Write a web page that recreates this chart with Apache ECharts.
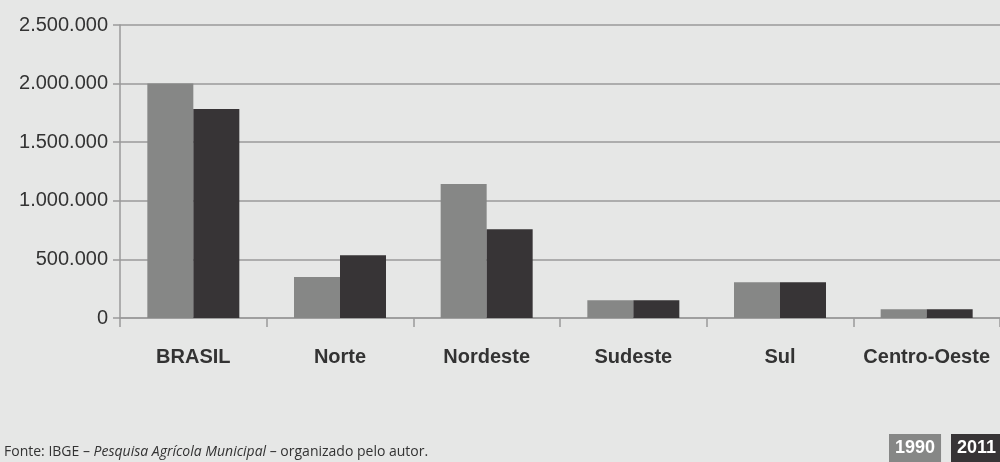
<!DOCTYPE html>
<html>
<head>
<meta charset="utf-8">
<title>Produção por região</title>
<script src="https://cdn.jsdelivr.net/npm/echarts@6/dist/echarts.min.js"></script>
<style>
    html, body { margin: 0; padding: 0; background: #e6e7e6; }
    #chart { width: 1000px; height: 462px; }
</style>
</head>
<body>
<div id="chart"></div>
<script>
'use strict';
// dados
var regioes = ['BRASIL', 'Norte', 'Nordeste', 'Sudeste', 'Sul', 'Centro-Oeste'];
var anos = ['1990', '2011'];
var valores1990 = [2000000, 350000, 1143000, 151000, 305000, 74000];
var valores2011 = [1783000, 536000, 758000, 151000, 305000, 74000];
var marcasY = [0, 500000, 1000000, 1500000, 2000000, 2500000];

var corCinza = '#868786';
var corEscura = '#373436';
var corLinha = '#9a9a9a';
var fonteArial = '"Liberation Sans", Arial, sans-serif';

// formata com ponto como separador de milhar
function milhar(v) {
    return String(v).replace(/\B(?=(\d{3})+(?!\d))/g, '.');
}

// uma legenda por ano, cada uma com a sua caixa colorida
function legendaAno(nome, esquerda, cor) {
    return {
        left: esquerda,
        top: 434,
        padding: 0,
        itemWidth: 0,
        itemHeight: 0,
        icon: 'rect',
        selectedMode: false,
        textStyle: {
            fontFamily: fonteArial,
            fontWeight: 'bold',
            fontSize: 18,
            lineHeight: 18,
            color: '#fff',
            backgroundColor: cor,
            padding: [5, 6, 5, 6]
        },
        data: [nome]
    };
}

var chart = echarts.init(document.getElementById('chart'));

var option = {
    backgroundColor: '#e6e7e6',
    animation: false,
    title: {
        left: 4,
        top: 445,
        padding: 0,
        text: '{n|Fonte: IBGE – }{i|Pesquisa Agrícola Municipal}{n| – organizado pelo autor.}',
        textStyle: {
            rich: {
                n: { fontFamily: '"Open Sans", sans-serif', fontSize: 14, fontWeight: 'normal', color: '#333' },
                i: { fontFamily: '"Open Sans", sans-serif', fontSize: 14, fontWeight: 'normal', fontStyle: 'italic', color: '#333' }
            }
        }
    },
    legend: [
        legendaAno(anos[0], 884, corCinza),
        legendaAno(anos[1], 946, corEscura)
    ],
    grid: {
        left: 120,
        top: 25,
        width: 884,
        height: 293
    },
    xAxis: {
        type: 'category',
        data: regioes,
        axisLine: { lineStyle: { color: corLinha, width: 1.5 } },
        axisTick: { show: true, interval: 0, length: 9, lineStyle: { color: corLinha, width: 1.5 } },
        axisLabel: {
            interval: 0,
            margin: 29,
            color: '#333',
            fontFamily: fonteArial,
            fontWeight: 'bold',
            fontSize: 20
        }
    },
    yAxis: {
        type: 'value',
        min: marcasY[0],
        max: marcasY[marcasY.length - 1],
        interval: marcasY[1] - marcasY[0],
        axisLine: { show: true, lineStyle: { color: corLinha, width: 1.5 } },
        axisTick: { show: true, length: 7, lineStyle: { color: corLinha, width: 1.5 } },
        splitLine: { lineStyle: { color: corLinha, width: 1.5 } },
        axisLabel: {
            margin: 12,
            color: '#333',
            fontFamily: fonteArial,
            fontSize: 20,
            formatter: milhar
        }
    },
    series: [{
        name: anos[0],
        type: 'bar',
        barWidth: 46,
        barGap: '0%',
        itemStyle: { color: corCinza },
        data: valores1990
    }, {
        name: anos[1],
        type: 'bar',
        barWidth: 46,
        barGap: '0%',
        itemStyle: { color: corEscura },
        data: valores2011
    }]
};

chart.setOption(option);
</script>
</body>
</html>
